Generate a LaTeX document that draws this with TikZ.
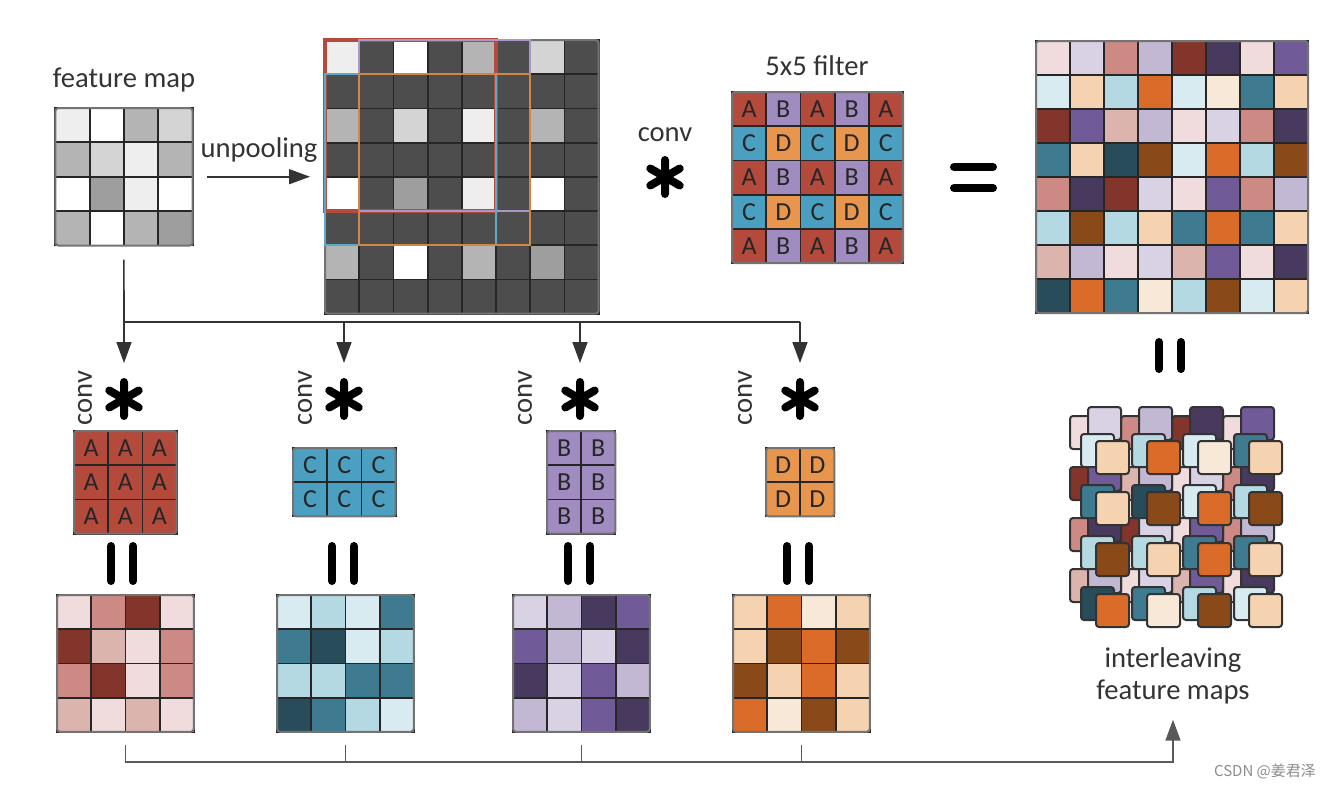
\documentclass[tikz,border=0pt]{standalone}
\usepackage{fontspec}
\setmainfont{Carlito}
\newfontfamily\cjkfont{Noto Sans CJK SC}
\usetikzlibrary{positioning,arrows.meta,calc}

% grey levels of the feature map
\definecolor{fm0}{HTML}{FFFFFF}
\definecolor{fm1}{HTML}{EEEEEE}
\definecolor{fm2}{HTML}{D4D4D4}
\definecolor{fm3}{HTML}{B4B4B4}
\definecolor{fm4}{HTML}{9E9E9E}
\definecolor{fm5}{HTML}{4D4D4D}
% filter groups
\definecolor{gA}{HTML}{B34A3C}
\definecolor{gB}{HTML}{A08CC0}
\definecolor{gC}{HTML}{4BA0C2}
\definecolor{gD}{HTML}{E8954E}
% output shades
\definecolor{clrA1}{HTML}{F0DCDC}\definecolor{clrA2}{HTML}{DCB4AE}
\definecolor{clrA3}{HTML}{CD8A84}\definecolor{clrA4}{HTML}{84352B}
\definecolor{clrB1}{HTML}{D8D2E4}\definecolor{clrB2}{HTML}{C3B8D4}
\definecolor{clrB3}{HTML}{705A98}\definecolor{clrB4}{HTML}{483A5E}
\definecolor{clrC1}{HTML}{D8EBF0}\definecolor{clrC2}{HTML}{B4D9E3}
\definecolor{clrC3}{HTML}{3E7A90}\definecolor{clrC4}{HTML}{284C5A}
\definecolor{clrD1}{HTML}{F8E8D8}\definecolor{clrD2}{HTML}{F5D3B0}
\definecolor{clrD3}{HTML}{DB6B28}\definecolor{clrD4}{HTML}{8A4918}

\def\fmvals{{1,0,3,2, 3,2,1,3, 0,4,1,0, 3,0,3,4}}
\def\arrA{{1,3,4,1, 4,2,1,3, 3,4,1,3, 2,1,2,1}}
\def\arrB{{1,2,4,3, 3,2,1,4, 4,1,3,2, 2,1,3,4}}
\def\arrC{{1,2,1,3, 3,4,1,2, 2,2,3,3, 4,3,2,1}}
\def\arrD{{2,3,1,2, 2,4,3,4, 4,2,3,2, 3,1,4,2}}

\begin{document}
\begin{tikzpicture}[
    x=0.5pt, y=-0.5pt,
    cell/.style={draw=black!85, line width=0.9pt, minimum size=17.1pt, inner sep=0pt, outer sep=0pt,
                 font=\fontsize{13}{13}\selectfont, text=black!85},
    frame/.style={draw=black!55, line width=1pt, rounded corners=1.5pt},
    tile/.style={draw=black!80, line width=1pt, rounded corners=1.5pt, minimum size=16.5pt, inner sep=0pt, outer sep=0pt},
    lbl/.style={font=\fontsize{14.3}{16}\selectfont, text=black!80, inner sep=0pt},
    conn/.style={draw=black!80, line width=0.8pt},
    arr/.style={conn, -{Triangle[length=10.5pt,width=7.5pt]}},
    aster/.style={circle, minimum size=17pt, inner sep=0pt, outer sep=0pt},
    astline/.style={line width=4pt, line cap=round},
    eqbar/.style={line width=4pt, line cap=round}
  ]
  \useasboundingbox (0,0) rectangle (1330,788);

  % feature map
  \node[lbl] (fmlbl) at (124,80) {feature map};
  \foreach \n in {0,...,15}{
    \pgfmathtruncatemacro\row{int(\n/4)}
    \pgfmathtruncatemacro\col{mod(\n,4)}
    \pgfmathtruncatemacro\val{\fmvals[\n]}
    \node[cell, fill=fm\val] (fm-\n) at (55.2+\col*34.4+17.2, 108+\row*34.4+17.2) {};
  }
  \draw[frame] (fm-0.north west) rectangle (fm-15.south east);

  % unpooled map
  \node[lbl] (uplbl) at (259,150) {unpooling};
  \foreach \n in {0,...,63}{
    \pgfmathtruncatemacro\row{int(\n/8)}
    \pgfmathtruncatemacro\col{mod(\n,8)}
    \def\val{5}
    \ifodd\row\relax\else\ifodd\col\relax\else
      \pgfmathtruncatemacro\val{\fmvals[int(\row/2)*4+int(\col/2)]}
    \fi\fi
    \node[cell, fill=fm\val] (up-\n) at (325+\col*34.2+17.1, 40+\row*34.2+17.1) {};
  }
  \draw[frame] (up-0.north west) rectangle (up-63.south east);
  \draw[draw=gA, line width=2.2pt] (up-0.north west) rectangle (up-36.south east);
  \draw[draw=gB!90, line width=1.2pt] (up-1.north west) rectangle (up-37.south east);
  \draw[draw=gC!90, line width=1.2pt] (up-8.north west) rectangle (up-44.south east);
  \draw[draw=gD!90!black, line width=1.2pt] (up-9.north west) rectangle (up-45.south east);
  \draw[arr] ([xshift=7pt]fm-7.south east) -- ([xshift=-7.5pt]fm-7.south east -| up-0.west);

  % 5x5 filter
  \node[lbl] (convlbl) at (665,135) {conv};
  \node[aster] (astTop) at (665,177) {};
  \node[lbl] (fltlbl) at (817,66) {5x5 filter};
  \foreach \n in {0,...,24}{
    \pgfmathtruncatemacro\row{int(\n/5)}
    \pgfmathtruncatemacro\col{mod(\n,5)}
    \ifodd\row\relax
      \ifodd\col\relax\def\lt{D}\else\def\lt{C}\fi
    \else
      \ifodd\col\relax\def\lt{B}\else\def\lt{A}\fi
    \fi
    \node[cell, fill=g\lt] (flt-\n) at (732+\col*34.2+17.1, 92+\row*34.2+17.1) {\lt};
  }
  \draw[frame] (flt-0.north west) rectangle (flt-24.south east);
  \draw[eqbar] (954,167) -- (993,167) (954,188) -- (993,188);

  % result 8x8
  \foreach \n in {0,...,63}{
    \pgfmathtruncatemacro\row{int(\n/8)}
    \pgfmathtruncatemacro\col{mod(\n,8)}
    \pgfmathtruncatemacro\idx{int(\row/2)*4+int(\col/2)}
    \ifodd\row\relax
      \ifodd\col\relax\def\grp{D}\def\curarr{\arrD}\else\def\grp{C}\def\curarr{\arrC}\fi
    \else
      \ifodd\col\relax\def\grp{B}\def\curarr{\arrB}\else\def\grp{A}\def\curarr{\arrA}\fi
    \fi
    \pgfmathtruncatemacro\val{\curarr[\idx]}
    \node[cell, minimum size=17pt, fill=clr\grp\val] (res-\n) at (1036+\col*34+17, 41+\row*34+17) {};
  }
  \draw[frame] (res-0.north west) rectangle (res-63.south east);
  \draw[eqbar] (1159,342) -- (1159,369) (1181,342) -- (1181,369);

  % branches: filters
  \foreach \nm/\lt/\nc/\last/\xo/\yo in {fA/A/3/8/74/431, fC/C/3/5/293/448, fB/B/2/5/547/431, fD/D/2/3/766/448}{
    \foreach \n in {0,...,\last}{
      \pgfmathtruncatemacro\row{int(\n/\nc)}
      \pgfmathtruncatemacro\col{mod(\n,\nc)}
      \node[cell, fill=g\lt] (\nm-\n) at (\xo+\col*34.2+17.1, \yo+\row*34.2+17.1) {\lt};
    }
    \draw[frame] (\nm-0.north west) rectangle (\nm-\last.south east);
  }
  \node[aster] (astA) at (124,399) {};
  \node[aster] (astC) at (344,399) {};
  \node[aster] (astB) at (580,399) {};
  \node[aster] (astD) at (800,399) {};
  \node[lbl, rotate=90] (cA) at (85,398) {conv};
  \node[lbl, rotate=90] (cC) at (305,398) {conv};
  \node[lbl, rotate=90] (cB) at (525,398) {conv};
  \node[lbl, rotate=90] (cD) at (745,398) {conv};
  \foreach \a in {astTop,astA,astC,astB,astD}{
    \draw[astline] (\a.90) -- (\a.270) (\a.30) -- (\a.210) (\a.150) -- (\a.330);
  }
  \foreach \xc in {122,343,579,798}{
    \draw[eqbar] (\xc-11,546) -- (\xc-11,581) (\xc+11,546) -- (\xc+11,581);
  }

  % branches: outputs
  \foreach \nm/\grp/\xo/\arr in {oA/A/57/\arrA, oC/C/277/\arrC, oB/B/513/\arrB, oD/D/733/\arrD}{
    \foreach \n in {0,...,15}{
      \pgfmathtruncatemacro\row{int(\n/4)}
      \pgfmathtruncatemacro\col{mod(\n,4)}
      \pgfmathtruncatemacro\val{\arr[\n]}
      \node[cell, fill=clr\grp\val] (\nm-\n) at (\xo+\col*34.2+17.1, 595+\row*34.2+17.1) {};
    }
    \draw[frame] (\nm-0.north west) rectangle (\nm-15.south east);
  }

  % interleaved stack
  \foreach \grp/\xo/\yo/\arr in {A/1070/416/\arrA, B/1088/407/\arrB, C/1081/434/\arrC, D/1096/441/\arrD}{
    \foreach \n in {0,...,15}{
      \pgfmathtruncatemacro\row{int(\n/4)}
      \pgfmathtruncatemacro\col{mod(\n,4)}
      \pgfmathtruncatemacro\val{\arr[\n]}
      \node[tile, fill=clr\grp\val] (st\grp-\n) at (\xo+\col*51+16.5, \yo+\row*51+16.5) {};
    }
  }
  \node[lbl, align=center] (stlbl) at (1173,676) {interleaving\\feature maps};

  % connectors
  \coordinate (jline) at (0,322);
  \coordinate (kline) at (0,762);
  \foreach \g in {A,C,B,D}{
    \coordinate (j\g) at (ast\g |- jline);
    \coordinate (k\g) at (o\g-13.south east |- kline);
  }
  \draw[conn] ([yshift=-7pt]fm-13.south east) -- (jA) -- (jD);
  \foreach \g in {A,C,B,D}{
    \draw[arr, shorten >=9.5pt] (j\g) -- (ast\g.north);
    \draw[conn, draw=black!65] ([yshift=-6.5pt]o\g-13.south east) -- (k\g);
  }
  \draw[arr, draw=black!65] (kA) -| ([yshift=-7.5pt]stlbl.south);

  \node[font=\cjkfont\fontsize{7.5}{9}\selectfont, text=black!45, inner sep=0pt] (mark) at (1265,771) {CSDN @姜君泽};
\end{tikzpicture}
\end{document}
